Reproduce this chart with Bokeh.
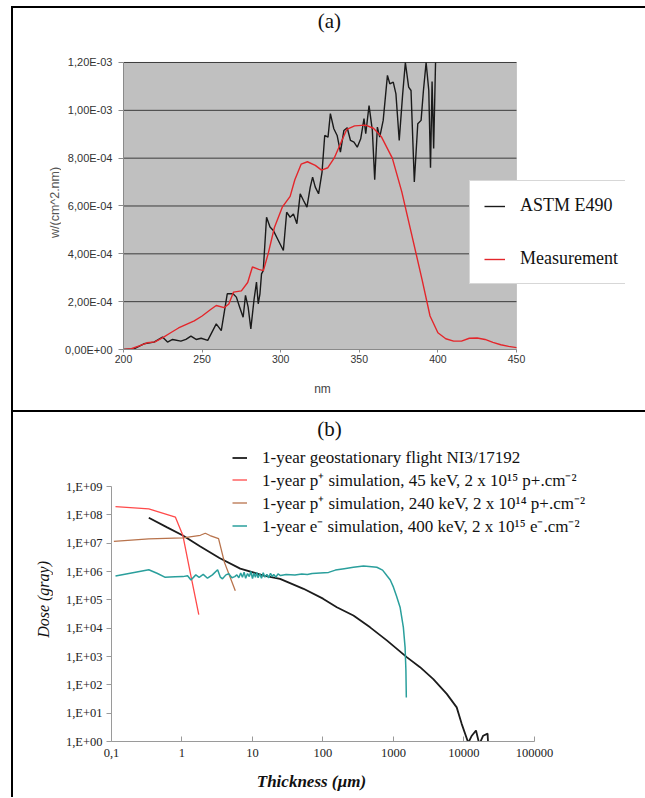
import math
from bokeh.plotting import figure
from bokeh.models import (FixedTicker, Legend, LegendItem, Label, Div, Range1d, BoxAnnotation)
from bokeh.layouts import column, row
from bokeh.embed import file_html
from bokeh.resources import INLINE

# ---------------- Panel (a) data ----------------
astm_nm = [200.0, 206.6, 213.0, 219.4, 224.8, 228.0, 231.2, 236.5, 239.7, 242.9, 246.2, 249.4,
           253.6, 259.0, 262.2, 266.0, 269.7, 271.8, 273.9, 276.1, 277.6, 279.3, 281.0, 283.1,
           284.6, 285.7, 286.8, 287.8, 288.9, 291.0, 293.2, 295.3, 298.5, 301.7, 303.8, 306.0,
           308.1, 310.3, 312.4, 314.5, 316.7, 318.8, 320.3, 322.0, 324.1, 326.3, 328.0, 330.1,
           331.6, 333.8, 335.9, 338.0, 340.2, 342.3, 344.4, 346.6, 348.7, 350.9, 353.0, 354.1,
           356.2, 358.3, 359.8, 361.5, 363.0, 365.2, 367.9, 369.4, 371.6, 373.3, 375.4, 377.6,
           379.3, 381.4, 382.9, 385.0, 387.2, 389.3, 390.8, 392.5, 394.2, 395.3, 396.3, 397.3,
           398.5]
astm_val = [0.0, 2.8e-6, 2.4e-5, 3.1e-5, 5.2e-5, 3.1e-5, 4.2e-5, 3.5e-5, 4.2e-5, 5.6e-5, 4.2e-5, 4.7e-5,
            3.8e-5, 1.07e-4, 7.9e-5, 2.33e-4, 2.33e-4, 2.19e-4, 1.77e-4, 1.35e-4, 2.26e-4, 1.77e-4, 8.6e-5, 2.12e-4,
            2.82e-4, 1.91e-4, 2.33e-4, 3.16e-4, 3.3e-4, 5.53e-4, 5.12e-4, 4.98e-4, 4.56e-4, 4.14e-4, 5.74e-4, 5.53e-4,
            5.67e-4, 5.26e-4, 6.51e-4, 6.23e-4, 5.95e-4, 6.79e-4, 7.21e-4, 6.79e-4, 6.51e-4, 7.42e-4, 8.95e-4, 8.88e-4,
            9.86e-4, 9.23e-4, 8.95e-4, 8.25e-4, 9.16e-4, 9.27e-4, 8.74e-4, 8.67e-4, 8.46e-4, 8.81e-4, 9.65e-4, 9.02e-4,
            1.02e-3, 9.16e-4, 7.1e-4, 9.3e-4, 8.88e-4, 9.58e-4, 1.146e-3, 1.111e-3, 1.118e-3, 1.069e-3, 8.74e-4, 1.069e-3,
            1.2e-3, 1.097e-3, 1.083e-3, 7.0e-4, 9.44e-4, 9.58e-4, 1.083e-3, 1.2e-3, 1.083e-3, 7.6e-4, 1.12e-3, 8.4e-4,
            1.2e-3]

meas_nm = [200, 205, 210, 215, 220, 225, 230, 235, 240, 245, 250, 255, 259, 264, 267, 270, 275, 279,
           282, 286, 289, 292, 296, 301, 306, 309, 313, 317, 322, 326, 330, 334, 339, 342, 347, 354,
           359, 364, 371, 377, 383, 390, 395, 400, 405, 410, 415, 420, 425, 430, 435, 440, 445, 450]
meas_val = [0.0, 3e-6, 1.5e-5, 2.8e-5, 3.2e-5, 5.0e-5, 7.0e-5, 9.0e-5, 1.05e-4, 1.2e-4, 1.4e-4, 1.65e-4,
            1.84e-4, 1.75e-4, 1.9e-4, 2.4e-4, 2.45e-4, 2.8e-4, 3.45e-4, 3.35e-4, 3.3e-4, 4.0e-4, 5.1e-4, 5.95e-4,
            6.4e-4, 7.1e-4, 7.75e-4, 7.85e-4, 7.7e-4, 7.5e-4, 7.6e-4, 8.0e-4, 8.75e-4, 9.2e-4, 9.35e-4, 9.38e-4,
            9.25e-4, 8.9e-4, 8.0e-4, 6.6e-4, 4.9e-4, 2.9e-4, 1.4e-4, 7.0e-5, 4.5e-5, 3.5e-5, 3.5e-5, 4.7e-5,
            4.8e-5, 4.2e-5, 3.0e-5, 2.0e-5, 1.3e-5, 8.0e-6]

a_xticks = [200, 250, 300, 350, 400, 450]
a_yticks = [0, 0.0002, 0.0004, 0.0006, 0.0008, 0.001, 0.0012]
a_ytick_labels = ["0,00E+00", "2,00E-04", "4,00E-04", "6,00E-04", "8,00E-04", "1,00E-03", "1,20E-03"]
a_xmin, a_xmax = 200, 450
a_ymin, a_ymax = 0, 0.0012

# ---------------- Panel (b) data ----------------
geo_x = [0.338, 0.615, 1.03, 1.82, 3.4, 6.7, 14.4, 24.6, 53, 100, 157, 270, 466, 803, 1540, 2380,
         3670, 5690, 7880, 9270, 11500, 12900, 14800, 16500, 18700, 21600, 22000]
geo_y = [7.9e7, 3.6e7, 1.86e7, 7.6e6, 3.0e6, 1.26e6, 7.2e5, 5.5e5, 2.45e5, 1.1e5, 5.5e4, 2.8e4,
         1.07e4, 3.7e3, 9.5e2, 4.2e2, 1.6e2, 48, 16, 4.2, 0.9, 1.6, 2.45, 0.8, 1.6, 1.9, 0.8]

p45_x = [0.114, 0.338, 0.807, 1.03, 1.32, 1.73]
p45_y = [1.95e8, 1.62e8, 8.3e7, 1.86e7, 8.3e5, 3.0e4]

p240_x = [0.108, 0.338, 1.03, 1.82, 2.14, 2.5, 3.3, 4.0, 5.7]
p240_y = [1.15e7, 1.41e7, 1.55e7, 1.9e7, 2.24e7, 1.86e7, 1.45e7, 2.1e6, 2.1e5]

e400_x = [0.114, 0.338, 0.45, 0.57, 0.8, 1.03, 1.2, 1.34, 1.57, 1.75, 2.0, 2.3, 2.7, 3.2, 3.5, 3.75,
          4.2, 4.6, 5.1, 5.6,
          6.0, 6.4, 6.8, 7.2, 7.6, 8.0, 8.5, 9.0, 9.5, 10, 10.5, 11, 11.5, 12, 12.7, 13.4, 14.2, 15,
          16, 17, 18, 19, 20, 21.5, 23, 25,
          30, 40, 50, 60, 70, 91, 120, 150, 200, 270, 375, 450, 580, 700, 803, 900, 998, 1100, 1240,
          1380, 1460, 1500, 1520]
e400_y = [6.9e5, 1.15e6, 8.5e5, 6.3e5, 6.5e5, 6.6e5, 7.1e5, 5.0e5, 7.6e5, 6.2e5, 7.9e5, 5.8e5, 7.6e5, 1.15e6,
          6.3e5, 5.5e5, 7.6e5, 8.3e5, 6.0e5, 6.6e5,
          7.6e5, 6.0e5, 8.9e5, 6.3e5, 9.5e5, 5.8e5, 8.5e5, 6.6e5, 1.0e6, 5.6e5, 8.9e5, 6.3e5, 9.3e5, 6.0e5,
          8.3e5, 5.8e5, 9.1e5, 6.3e5, 7.9e5, 6.0e5, 8.7e5, 6.6e5, 7.9e5, 6.3e5, 8.3e5, 7.2e5,
          7.9e5, 7.6e5, 8.1e5, 7.9e5, 8.5e5, 8.9e5, 9.3e5, 1.12e6, 1.26e6, 1.41e6, 1.55e6, 1.51e6, 1.41e6,
          1.12e6, 7.2e5, 5.0e5, 2.8e5, 1.4e5, 5.5e4, 1.07e4, 2.1e3, 3.2e2, 36]

b_xticks = [0.1, 1, 10, 100, 1000, 10000, 100000]
b_xtick_labels = ["0,1", "1", "10", "100", "1000", "10000", "100000"]
b_yticks = [1, 10, 100, 1000, 10000, 100000, 1000000, 10000000, 100000000, 1000000000]
b_ytick_labels = ["1,E+00", "1,E+01", "1,E+02", "1,E+03", "1,E+04", "1,E+05", "1,E+06",
                  "1,E+07", "1,E+08", "1,E+09"]
b_xmin, b_xmax = 0.1, 100000
b_ymin, b_ymax = 1, 1000000000

SANS = "Liberation Sans"
SERIF = "Liberation Serif"


def text_strip(width, height, text, x, y, vertical=False, **style):
    """A blank figure whose ranges equal its pixels, holding one axis-title text."""
    s = figure(width=width, height=height, x_range=Range1d(0, width), y_range=Range1d(height, 0),
               output_backend="svg", toolbar_location=None, title=None,
               x_axis_location=None, y_axis_location=None,
               min_border_left=0, min_border_right=0, min_border_top=0, min_border_bottom=0)
    s.grid.visible = False
    s.outline_line_color = None
    s.background_fill_color = "white"
    s.border_fill_color = "white"
    s.add_layout(Label(x=x, y=y, text=text, angle=(math.pi / 2 if vertical else 0),
                       text_align="center", text_baseline="middle", **style))
    return s


# ---------------- Panel (a) ----------------
pa = figure(width=581, height=364, title=None,
            x_range=Range1d(200, 519.34), y_range=Range1d(0, 0.00142578),
            output_backend="svg", toolbar_location=None,
            min_border_left=62, min_border_right=17, min_border_top=0, min_border_bottom=23)
pa.background_fill_color = "white"
pa.border_fill_color = "white"
pa.outline_line_color = None
pa.grid.visible = False

# grey plot area
pa.add_layout(BoxAnnotation(left=a_xmin, right=a_xmax, bottom=a_ymin, top=a_ymax,
                            fill_color="#c0c0c0", fill_alpha=1, line_color="#8a8a8a",
                            line_width=1, level="image"))
# horizontal grid lines at the y ticks, limited to the plot area
pa.segment(x0=a_xmin, x1=a_xmax, y0=a_yticks, y1=a_yticks, line_color="#3c3c3c", line_width=1)

pa.yaxis.ticker = FixedTicker(ticks=a_yticks, minor_ticks=[])
pa.yaxis.major_label_overrides = dict(zip(a_yticks, a_ytick_labels))
pa.yaxis.bounds = (a_ymin, a_ymax)
pa.xaxis.ticker = FixedTicker(ticks=a_xticks, minor_ticks=[])
pa.xaxis.bounds = (a_xmin, a_xmax)
for ax in (pa.xaxis[0], pa.yaxis[0]):
    ax.axis_line_color = "#8a8a8a"
    ax.major_tick_line_color = "#8a8a8a"
    ax.minor_tick_line_color = None
    ax.major_tick_in = 0
    ax.major_label_text_font = SANS
    ax.major_label_text_color = "#333333"
pa.yaxis.major_tick_out = 5
pa.yaxis.major_label_standoff = 6
pa.yaxis.major_label_text_font_size = "11px"
pa.xaxis.major_tick_out = 3
pa.xaxis.major_label_standoff = 2
pa.xaxis.major_label_text_font_size = "10.5px"

r_astm = pa.line(astm_nm, astm_val, line_color="#1a1a1a", line_width=1.4)
r_meas = pa.line(meas_nm, meas_val, line_color="#e3262b", line_width=1.4)

leg_a = Legend(items=[LegendItem(label="ASTM E490", renderers=[r_astm]),
                      LegendItem(label="Measurement", renderers=[r_meas])],
               location=(346, 65))
leg_a.background_fill_color = "white"
leg_a.background_fill_alpha = 1
leg_a.border_line_color = "#b0b0b0"
leg_a.border_line_width = 1
leg_a.padding = 14
leg_a.spacing = 32
leg_a.margin = 0
leg_a.glyph_width = 21
leg_a.label_standoff = 15
leg_a.label_text_font = SERIF
leg_a.label_text_font_size = "18px"
leg_a.label_text_color = "#111111"
pa.add_layout(leg_a, "center")

pa.add_layout(Label(x=331, y=0.0013756, text="(a)",
                    text_font=SERIF, text_font_size="21px", text_align="center",
                    text_baseline="middle", text_color="#111111"))

ya = text_strip(48, 364, "w/(cm^2.nm)", 41, 207, vertical=True,
                text_font=SANS, text_font_size="12.5px", text_color="#555555")
xa = text_strip(629, 38, "nm", 309, 16,
                text_font=SANS, text_font_size="12px", text_color="#444444")
panel_a = column(row(ya, pa, spacing=0), xa, spacing=0)

# ---------------- Divider ----------------
divider = Div(width=632, height=2, margin=0, styles={"background-color": "black"})

# ---------------- Panel (b) ----------------
pb = figure(width=589, height=352, title=None, x_axis_type="log", y_axis_type="log",
            x_range=Range1d(0.1, 10 ** 6.2908), y_range=Range1d(1, 10 ** 11.612),
            output_backend="svg", toolbar_location=None,
            min_border_left=58, min_border_right=17, min_border_top=0, min_border_bottom=23)
pb.background_fill_color = "white"
pb.border_fill_color = "white"
pb.outline_line_color = None
pb.xgrid.visible = False
pb.ygrid.visible = False
pb.xaxis.ticker = FixedTicker(ticks=b_xticks, minor_ticks=[])
pb.xaxis.major_label_overrides = dict(zip(b_xticks, b_xtick_labels))
pb.xaxis.bounds = (b_xmin, b_xmax)
pb.yaxis.ticker = FixedTicker(ticks=b_yticks, minor_ticks=[])
pb.yaxis.major_label_overrides = dict(zip(b_yticks, b_ytick_labels))
pb.yaxis.bounds = (b_ymin, b_ymax)
for ax in (pb.xaxis[0], pb.yaxis[0]):
    ax.axis_line_color = "#9a9a9a"
    ax.major_tick_line_color = "#9a9a9a"
    ax.minor_tick_line_color = None
    ax.major_label_text_font = SERIF
    ax.major_label_text_font_size = "12.5px"
    ax.major_label_text_color = "#222222"
pb.xaxis.major_tick_in = 5
pb.xaxis.major_tick_out = 0
pb.xaxis.major_label_standoff = 7
pb.yaxis.major_tick_in = 0
pb.yaxis.major_tick_out = 5
pb.yaxis.major_label_standoff = 4

r_geo = pb.line(geo_x, geo_y, line_color="#1c1c1c", line_width=1.8)
r_p45 = pb.line(p45_x, p45_y, line_color="#ff4a4a", line_width=1.3)
r_p240 = pb.line(p240_x, p240_y, line_color="#b8734c", line_width=1.3)
r_e400 = pb.line(e400_x, e400_y, line_color="#2a9f9c", line_width=1.5)

leg_b = Legend(items=[
    LegendItem(label="1-year geostationary flight NI3/17192", renderers=[r_geo]),
    LegendItem(label="1-year p\u207a simulation, 45 keV, 2 x 10\u00b9\u2075 p+.cm\u207b\u00b2", renderers=[r_p45]),
    LegendItem(label="1-year p\u207a simulation, 240 keV, 2 x 10\u00b9\u2074 p+.cm\u207b\u00b2", renderers=[r_p240]),
    LegendItem(label="1-year e\u207b simulation, 400 keV, 2 x 10\u00b9\u2075 e\u207b.cm\u207b\u00b2", renderers=[r_e400]),
], location=(121, 204))
leg_b.background_fill_alpha = 0
leg_b.border_line_color = None
leg_b.padding = 0
leg_b.spacing = 0
leg_b.margin = 0
leg_b.glyph_width = 15
leg_b.glyph_height = 21
leg_b.label_height = 21
leg_b.label_standoff = 15
leg_b.label_text_font = SERIF
leg_b.label_text_font_size = "17px"
leg_b.label_text_color = "#111111"
pb.add_layout(leg_b, "center")

pb.add_layout(Label(x=123.6, y=1.03e11, text="(b)",
                    text_font=SERIF, text_font_size="21px", text_align="center",
                    text_baseline="middle", text_color="#111111"))

yb = text_strip(40, 352, "Dose (gray)", 30, 200, vertical=True,
                text_font=SERIF, text_font_size="16px", text_font_style="italic",
                text_color="#111111")
xb = text_strip(629, 33, "Thickness (µm)", 298, 17,
                text_font=SERIF, text_font_size="17px", text_font_style="bold italic",
                text_color="#111111")
panel_b = column(row(yb, pb, spacing=0), xb, spacing=0)

layout = column(panel_a, divider, panel_b, spacing=0,
                styles={"border-left": "2px solid black", "border-top": "2px solid black",
                        "margin-left": "11px", "margin-top": "6px"})

open("out.html", "w").write(file_html(layout, INLINE))
